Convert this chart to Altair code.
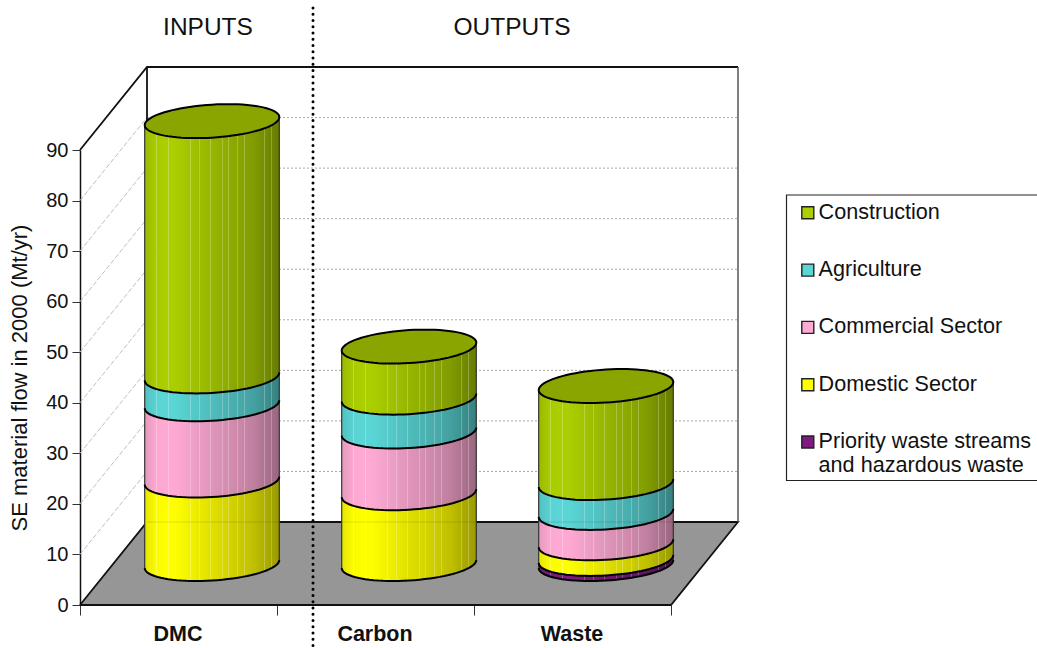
import math
import altair as alt
import pandas as pd

# Stacked material flows (Mt/yr) per sector, bottom of the cylinder first.
categories = ["DMC", "Carbon", "Waste"]
sectors = ["Priority waste streams and hazardous waste", "Domestic Sector",
           "Commercial Sector", "Agriculture", "Construction"]
priority = [0.0, 0.0, 1.0]
domestic = [16.5, 14.0, 3.1]
commercial = [15.1, 12.2, 6.0]
agriculture = [5.5, 6.7, 5.9]
construction = [50.5, 10.1, 19.2]
series = [priority, domestic, commercial, agriculture, construction]
colors = ["#7f1a80", "#ffff00", "#ffaad4", "#5bd6d6", "#abcf00"]
top_color = "#8aa500"
y_ticks = [0, 10, 20, 30, 40, 50, 60, 70, 80, 90]

# Pseudo-3D layout, expressed in scale units.
PX_Y = 455 / 90
PX_X = 197
DEPTH_X = 67 / PX_X
DEPTH_Y = 83 / PX_Y
BASE = 41 / PX_Y
RADIUS = 67.3 / PX_X
MID = 33.5 / PX_X
MINOR = 16.5 / PX_Y
TILT = 4.0 / PX_Y
ANGLES = [math.pi * i / 40 for i in range(41)]


def page_x(px):
    return (px - 80) / PX_X


def page_y(px):
    return (605 - px) / PX_Y


def front(level, c):
    return BASE + level + TILT * c - MINOR * math.sqrt(max(0, 1 - c * c))


def back(level, c):
    return BASE + level + TILT * c + MINOR * math.sqrt(max(0, 1 - c * c))


def shade(hex_color, t, stripe):
    curve = [(0, .90), (.1, 1), (.22, 1), (.5, .88), (.8, .76), (.95, .64), (1, .60)]
    factor = curve[-1][1]
    for (a, fa), (b, fb) in zip(curve, curve[1:]):
        if a <= t <= b:
            factor = fa + (fb - fa) * (t - a) / (b - a)
            break
    rgb = [int(hex_color[i:i + 2], 16) * factor for i in (1, 3, 5)]
    if stripe:
        rgb = [v + (255 - v) * 0.25 for v in rgb]
    return "#%02x%02x%02x" % tuple(int(v) for v in rgb)


def side_gradient(hex_color):
    marks = [.09, .175, .225, .34, .405, .49, .575, .625, .69, .74, .805, .89, .94]
    stops = [alt.GradientStop(color=shade(hex_color, 0, False), offset=0)]
    for m in marks:
        for off, st in ((m - .003, False), (m - .0029, True), (m + .003, True), (m + .0031, False)):
            stops.append(alt.GradientStop(color=shade(hex_color, m, st), offset=off))
    stops.append(alt.GradientStop(color=shade(hex_color, 1, False), offset=1))
    return alt.Gradient(gradient="linear", x1=0, x2=1, y1=0, y2=0, stops=stops)


fill_rows, arc_rows, side_rows, cap_rows, cap_line = [], [], [], [], []
for i, cat in enumerate(categories):
    cx = i + 0.5 + MID
    level = 0.0
    for s_idx, name in enumerate(sectors):
        v = series[s_idx][i]
        if v <= 0:
            continue
        for seq, a in enumerate(ANGLES):
            c = -math.cos(a)
            x = cx + RADIUS * c
            fill_rows.append(dict(sector=name, cat=cat, x=x, y=front(level, c), y2=front(level + v, c)))
            arc_rows.append(dict(g=f"{cat}{s_idx}", x=x, y=front(level, c), o=seq))
        for side in (-1, 1):
            side_rows.append(dict(g=f"{cat}{side}", x=cx + RADIUS * side, y=BASE + level + TILT * side))
            side_rows.append(dict(g=f"{cat}{side}", x=cx + RADIUS * side, y=BASE + level + v + TILT * side))
        level += v
    for seq, a in enumerate(ANGLES):
        c = -math.cos(a)
        x = cx + RADIUS * c
        cap_rows.append(dict(cat=cat, x=x, y=front(level, c), y2=back(level, c)))
        cap_line.append(dict(g=cat, x=x, y=front(level, c), o=seq))
        cap_line.append(dict(g=cat, x=x, y=back(level, c), o=200 - seq))

sx = alt.Scale(domain=[0, 3], nice=False, zero=False)
sy = alt.Scale(domain=[0, 90], nice=False, zero=False)
x_axis = alt.Axis(
    values=[0, 1, 2, 3], grid=False, domain=False, tickColor="#333", tickSize=10, tickWidth=1,
    labelExpr="['DMC','Carbon','Waste',''][datum.value]", labelOffset=97.5, labelPadding=8,
    labelBound=False, labelOverlap=False, labelFlush=False, labelAngle=0,
    labelFont="Liberation Sans", labelFontSize=21.5, labelFontWeight="bold", labelColor="#111")
y_axis = alt.Axis(
    values=y_ticks, grid=False, domainColor="#111", domainWidth=1.5, tickColor="#333", tickSize=8,
    tickWidth=1, labelPadding=4, labelFont="Liberation Sans", labelFontSize=20, labelColor="#111",
    labelOverlap=False, titleFont="Liberation Sans", titleFontSize=22, titleFontWeight="normal",
    titleColor="#111", titlePadding=14)
X = alt.X("x:Q", scale=sx, title=None, axis=x_axis)
Y = alt.Y("y:Q", scale=sy, title="SE material flow in 2000 (Mt/yr)", axis=y_axis)


def polyline(rows, **mark):
    return alt.Chart(pd.DataFrame(rows)).mark_line(interpolate="linear", **mark).encode(
        x=X, y=Y, detail="g:N", order="o:Q")


def segments(pairs):
    rows = []
    for k, pts in enumerate(pairs):
        for o, (x, y) in enumerate(pts):
            rows.append(dict(g=k, x=x, y=y, o=o))
    return rows


# Floor, walls and their grid lines.
floor = alt.Chart(pd.DataFrame({"y": [0, DEPTH_Y], "x": [0, DEPTH_X], "x2": [3, 3 + DEPTH_X]})).mark_area(
    orient="horizontal", color="#969696").encode(y=Y, x=X, x2="x2:Q")

back_grid = polyline(segments([[(DEPTH_X, t + DEPTH_Y), (3 + DEPTH_X, t + DEPTH_Y)] for t in y_ticks[1:-1]]),
                     color="#a8a8a8", strokeWidth=1, strokeDash=[2, 2])
side_grid = polyline(segments([[(0, t), (DEPTH_X, t + DEPTH_Y)] for t in y_ticks[1:-1]]),
                     color="#c0c0c0", strokeWidth=1, strokeDash=[5, 2])
frame = polyline(segments([
    [(0, 90), (DEPTH_X, 90 + DEPTH_Y), (3 + DEPTH_X, 90 + DEPTH_Y)],
    [(DEPTH_X, 90 + DEPTH_Y), (DEPTH_X, DEPTH_Y)],
    [(0, 0), (DEPTH_X, DEPTH_Y), (3 + DEPTH_X, DEPTH_Y), (3, 0), (0, 0)],
]), color="#111", strokeWidth=1.8)
right_edge = polyline(segments([[(3 + DEPTH_X, 90 + DEPTH_Y), (3 + DEPTH_X, DEPTH_Y)]]),
                      color="#555", strokeWidth=1.5)

# Cylinder bodies, one layer per sector from the bottom up.
fills = pd.DataFrame(fill_rows)
bodies = []
for name, col in zip(sectors, colors):
    part = fills[fills.sector == name]
    bodies.append(alt.Chart(part).mark_area(fill=side_gradient(col), interpolate="linear").encode(
        x=X, y=Y, y2="y2:Q", detail="cat:N"))

# The floor's back edge shows faintly through the cylinder walls.
floor_edge = polyline(segments([[(DEPTH_X, DEPTH_Y), (3 + DEPTH_X, DEPTH_Y)]]),
                      color="#000", strokeWidth=1, opacity=0.12)
arcs = polyline(arc_rows, color="#000", strokeWidth=2)
sides = polyline([dict(r, o=j) for j, r in enumerate(side_rows)], color="#333", strokeWidth=1.2)
caps = alt.Chart(pd.DataFrame(cap_rows)).mark_area(color=top_color, interpolate="linear").encode(
    x=X, y=Y, y2="y2:Q", detail="cat:N")
cap_outline = polyline(cap_line, color="#000", strokeWidth=2)

# Legend frame and entries; the entries come from a fill scale on an invisible layer.
legend_box = polyline(segments([[
    (page_x(1042), page_y(195)), (page_x(786.5), page_y(195)),
    (page_x(786.5), page_y(480.5)), (page_x(1042), page_y(480.5)),
]]), color="#222", strokeWidth=1.2)
legend_order = list(reversed(sectors))
legend_layer = alt.Chart(pd.DataFrame({"sector": legend_order, "x": [1] * 5, "y": [1] * 5})).mark_point(
    filled=True, opacity=0, shape="square").encode(
    x=X, y=Y,
    fill=alt.Fill("sector:N", scale=alt.Scale(domain=legend_order, range=list(reversed(colors))),
                  legend=alt.Legend(
                      title=None, orient="none", legendX=706.5, legendY=44, padding=8,
                      symbolType="square", symbolSize=144,
                      symbolOpacity=1, symbolStrokeColor="#222", symbolStrokeWidth=1.4, symbolOffset=2.5,
                      labelFont="Liberation Sans", labelFontSize=21.6, labelColor="#111", labelLimit=300,
                      labelOffset=0, rowPadding=34.3,
                      labelExpr="datum.label == 'Priority waste streams and hazardous waste' ? "
                                "['Priority waste streams', 'and hazardous waste'] : datum.label")),
)

# Section headings and the dotted divider between inputs and outputs.
headings = alt.Chart(pd.DataFrame({
    "x": [page_x(208), page_x(512)], "y": [page_y(28)] * 2, "t": ["INPUTS", "OUTPUTS"]
})).mark_text(font="Liberation Sans", fontSize=24.5, color="#111", baseline="middle").encode(
    x=X, y=Y, text="t:N")
divider = polyline(segments([[(page_x(313), page_y(8)), (page_x(313), page_y(648))]]),
                   color="#000", strokeWidth=3, strokeDash=[0, 6.25], strokeCap="round")

chart = alt.layer(
    floor, back_grid, side_grid, frame, right_edge, *bodies, floor_edge, sides, arcs, caps, cap_outline,
    legend_box, legend_layer, headings, divider,
).properties(
    width=591, height=455, autosize="none", background="#ffffff",
    padding={"left": 80, "top": 150, "right": 366, "bottom": 43},
).configure_view(stroke=None)

chart.save("out.html", embed_options={"renderer": "svg", "actions": False})
